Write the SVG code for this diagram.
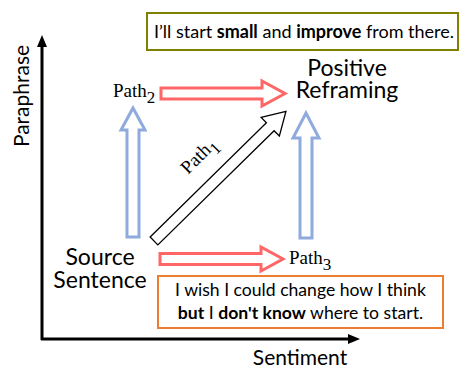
<svg xmlns="http://www.w3.org/2000/svg" width="460" height="372" viewBox="0 0 460 372">
<style>
.sans{font-family:Lato,"Open Sans","Liberation Sans",sans-serif;fill:#000}
.serif{font-family:"Liberation Serif","Times New Roman",serif;fill:#000;font-size:19px}
.red{fill:#fff;stroke:#FF6666;stroke-width:3;stroke-linejoin:miter}
.blue{fill:#fff;stroke:#8FAADC;stroke-width:3;stroke-linejoin:miter}
.blk{fill:#fff;stroke:#000;stroke-width:1.3}
</style>
<defs>
<marker id="ah" markerWidth="12" markerHeight="10" refX="4" refY="5" orient="auto" markerUnits="userSpaceOnUse" viewBox="0 0 12 10">
<path d="M0,0 L12,5 L0,10 z" fill="#000"/>
</marker>
</defs>
<g id="axes">
<line x1="42" y1="340" x2="42" y2="43" stroke="#000" stroke-width="3" marker-end="url(#ah)"/>
<line x1="41" y1="339" x2="352" y2="339" stroke="#000" stroke-width="3" marker-end="url(#ah)"/>
<text class="sans" font-size="21" transform="translate(29,96) rotate(-90)" text-anchor="middle">Paraphrase</text>
<text class="sans" font-size="21" x="300" y="365" text-anchor="middle">Sentiment</text>
</g>
<g id="connectors">
<polygon class="red" points="161,88 262,88 262,81 285,93.5 262,106 262,99 161,99"/>
<polygon class="red" points="160,253.5 261,253.5 261,247 283,259 261,271 261,264.5 160,264.5"/>
<polygon class="blue" points="127,237 127,130 121,130 133,108 145,130 139,130 139,237"/>
<polygon class="blue" points="300,238 300,138 293,138 306,113 319,138 312,138 312,238"/>
<polygon class="blk" transform="translate(154,241) rotate(-44.5)" points="0,-5.5 163,-5.5 163,-13 185,0 163,13 163,5.5 0,5.5"/>
</g>
<g id="top-box">
<rect x="147" y="13" width="311" height="37" fill="#fff" stroke="#808000" stroke-width="2"/>
<text class="sans" font-size="18" x="304" y="38" text-anchor="middle">I’ll start <tspan font-weight="bold">small</tspan> and <tspan font-weight="bold">improve</tspan> from there.</text>
</g>
<g id="positive-reframing">
<text class="sans" font-size="23" x="347" y="76" text-anchor="middle">Positive</text>
<text class="sans" font-size="23" x="347" y="98" text-anchor="middle">Reframing</text>
</g>
<g id="source-sentence">
<text class="sans" font-size="23" x="100" y="265" text-anchor="middle">Source</text>
<text class="sans" font-size="23" x="100" y="288" text-anchor="middle">Sentence</text>
</g>
<g id="path2">
<text class="serif" x="113" y="97">Path<tspan font-size="17" dy="6">2</tspan></text>
</g>
<g id="path3">
<text class="serif" x="289" y="264">Path<tspan font-size="17" dy="6">3</tspan></text>
</g>
<g id="path1">
<text class="serif" transform="translate(188,175) rotate(-45)">Path<tspan font-size="17" dy="6">1</tspan></text>
</g>
<g id="bottom-box">
<rect x="158" y="276" width="285" height="52" fill="#fff" stroke="#ED7D31" stroke-width="2"/>
<text class="sans" font-size="17.6" x="300.5" y="296" text-anchor="middle">I wish I could change how I think</text>
<text class="sans" font-size="17.6" x="300.5" y="319" text-anchor="middle"><tspan font-weight="bold">but</tspan> I <tspan font-weight="bold">don't know</tspan> where to start.</text>
</g>
</svg>
